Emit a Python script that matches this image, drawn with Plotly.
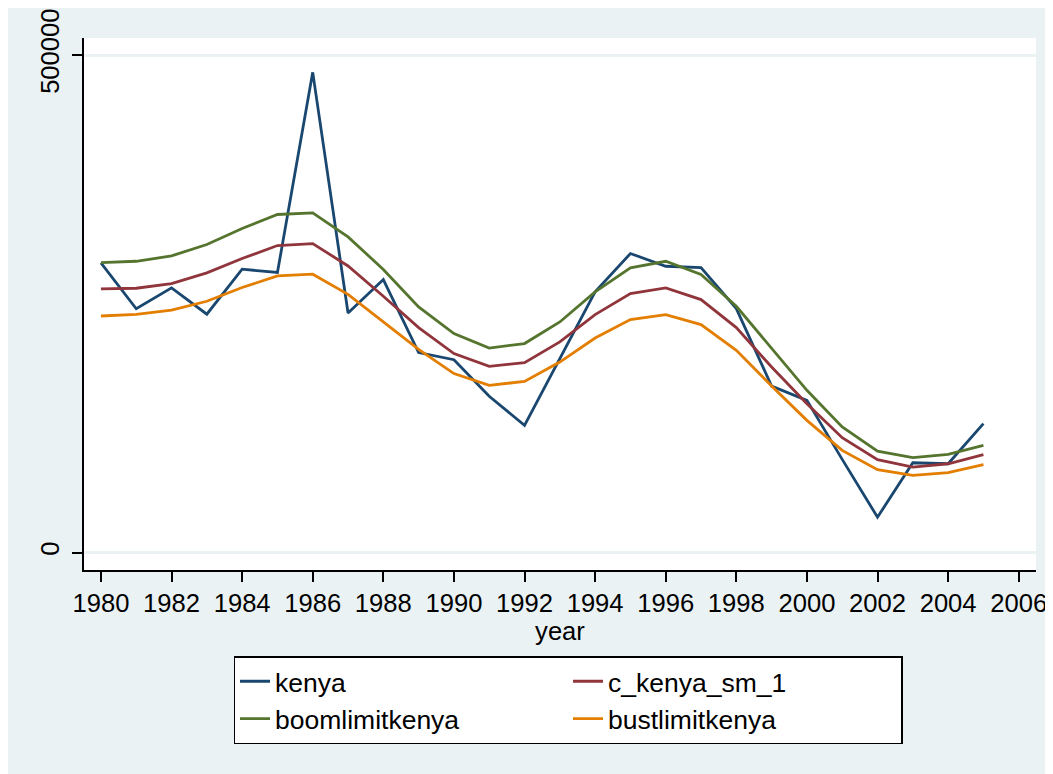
import plotly.graph_objects as go

years = list(range(1980, 2006))

kenya = [291000, 245000, 266000, 239500, 284700, 281400, 482600, 240700, 274300,
         200900, 193800, 157000, 127800, 195000, 261900, 300500, 287700, 286400,
         245100, 167300, 152900, 93600, 35500, 90200, 89200, 129500]

c_kenya_sm_1 = [264900, 265600, 270300, 281000, 295500, 308500, 310500, 288000, 257500,
                226000, 199900, 187100, 190800, 211600, 239100, 260200, 265900, 254200,
                226000, 186400, 149600, 115400, 93300, 85800, 89200, 98300]

boomlimitkenya = [291400, 292700, 298100, 309500, 325600, 339700, 341300, 317200, 284500,
                  246800, 220000, 205500, 210000, 231700, 261900, 286000, 292700, 279400,
                  247500, 204900, 163000, 126100, 101900, 95300, 98600, 107600]

bustlimitkenya = [237700, 239400, 243500, 252500, 266300, 278000, 279700, 259500, 231700,
                  204200, 179800, 168000, 172000, 191400, 215600, 234100, 239100, 229100,
                  203200, 167300, 132800, 102600, 83200, 77500, 80200, 88200]

series = [
    ("kenya", kenya, "#1a476f"),
    ("c_kenya_sm_1", c_kenya_sm_1, "#90353b"),
    ("boomlimitkenya", boomlimitkenya, "#55752f"),
    ("bustlimitkenya", bustlimitkenya, "#e37e00"),
]

x_ticks = list(range(1980, 2007, 2))
y_ticks = [0, 500000]

FONT = "Liberation Sans, Arial, sans-serif"
BG = "#eaf2f3"

fig = go.Figure()
for name, vals, col in series:
    fig.add_trace(go.Scatter(x=years, y=vals, mode="lines", name=name,
                             line=dict(color=col, width=2.8)))

W, H = 1045, 766
L, R, T, B = 76, 17, 30, 204
PW, PH = W - L - R, H - T - B

fig.update_layout(
    width=W, height=H,
    margin=dict(l=L, r=R, t=T, b=B, pad=0, autoexpand=False),
    paper_bgcolor=BG,
    plot_bgcolor="white",
    font=dict(family=FONT, size=25, color="black"),
    showlegend=True,
    legend=dict(
        orientation="h",
        x=(560 - L) / PW, xanchor="center",
        y=(562 - 648) / PH, yanchor="top",
        bgcolor="white", bordercolor="black", borderwidth=1.5,
        entrywidth=288, entrywidthmode="pixels",
        font=dict(family=FONT, size=26.5, color="black"),
        traceorder="normal",
    ),
    xaxis=dict(
        range=[1979.52, 2006.49], automargin=False,
        tickvals=x_ticks, ticktext=[str(v) for v in x_ticks],
        ticks="outside", ticklen=10, tickwidth=1.5, tickcolor="black",
        showline=True, linecolor="black", linewidth=1.5,
        showgrid=False, zeroline=False,
        tickfont=dict(family=FONT, size=25.6, color="black"),
        title=dict(text="year", font=dict(family=FONT, size=25.6, color="black"), standoff=0),
    ),
    yaxis=dict(
        range=[-17590, 517100], automargin=False,
        tickvals=y_ticks, ticktext=[str(v) for v in y_ticks],
        tickangle=-90,
        ticks="outside", ticklen=10, tickwidth=1.5, tickcolor="black",
        showline=True, linecolor="black", linewidth=1.5,
        showgrid=True, gridcolor=BG, gridwidth=2.5,
        zeroline=False, ticklabelstandoff=3,
        tickfont=dict(family=FONT, size=25.6, color="black"),
    ),
)

fig.write_html("out.html")
